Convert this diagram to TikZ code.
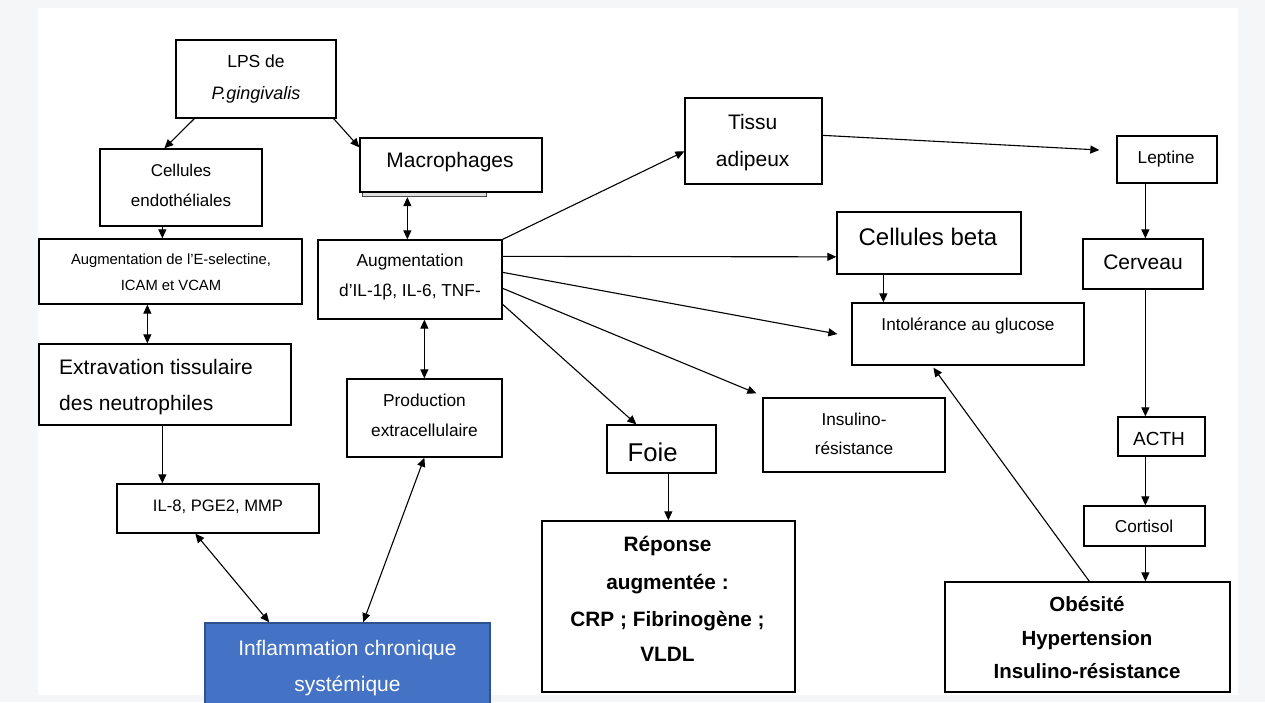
\documentclass[tikz,border=0pt]{standalone}
\usepackage{fontspec}
\setmainfont{Liberation Sans}
\usetikzlibrary{arrows.meta}
\newcommand{\fsz}[1]{\fontsize{#1}{#1}\selectfont}
\definecolor{pagebg}{HTML}{F5F6F8}
\definecolor{inflfill}{HTML}{4472C4}
\definecolor{infldraw}{HTML}{2F528F}
\tikzset{
  box/.style={draw=black, line width=1.3pt, inner sep=0pt, fill=white},
  txt/.style={anchor=base, inner sep=0pt, text=black},
  arr/.style={line width=1.1pt, -{Triangle[length=9pt,width=8pt]}},
  darr/.style={line width=1.1pt, {Triangle[length=9pt,width=8pt]}-{Triangle[length=9pt,width=8pt]}},
}
\begin{document}
\begin{tikzpicture}[x=1pt,y=-1pt]
\clip (0,0) rectangle (1265,702);
\useasboundingbox (0,0) rectangle (1265,702);
\fill[pagebg] (0,0) rectangle (1265,702);
\fill[white] (38,8) rectangle (1238,695);

% boxes
\node[box, minimum width=160pt, minimum height=78pt] (lps) at (256,79) {};
\node[box, minimum width=162pt, minimum height=77pt] (endo) at (181,187.5) {};
\draw[line width=0.8pt, draw=black!70, fill=black!12] (362,192) rectangle (486,196.5);
\node[box, minimum width=182pt, minimum height=54pt] (macro) at (451,165) {};
\node[box, minimum width=263pt, minimum height=65pt] (esel) at (170.5,271.5) {};
\node[box, minimum width=184pt, minimum height=79pt] (il) at (410,279.5) {};
\node[box, minimum width=252pt, minimum height=81pt] (extra) at (165,384.5) {};
\node[box, minimum width=155pt, minimum height=78pt] (prod) at (424.5,418) {};
\node[box, minimum width=202pt, minimum height=49pt] (il8) at (218,508.5) {};
\node[draw=infldraw, fill=inflfill, line width=1.6pt, inner sep=0pt, minimum width=285pt, minimum height=90pt] (infl) at (347.5,668) {};
\node[box, minimum width=137pt, minimum height=86pt] (tissu) at (753.5,141) {};
\node[box, minimum width=100pt, minimum height=47pt] (lept) at (1167,159.5) {};
\node[box, minimum width=184pt, minimum height=62pt] (beta) at (929,243) {};
\node[box, minimum width=120pt, minimum height=50pt] (cerv) at (1143,264) {};
\node[box, minimum width=232pt, minimum height=62pt] (intol) at (968,334) {};
\node[box, minimum width=182pt, minimum height=74pt] (insul) at (854,435) {};
\node[box, minimum width=109pt, minimum height=48pt] (foie) at (661.5,449) {};
\node[box, minimum width=253pt, minimum height=171pt] (rep) at (668.5,606.5) {};
\node[box, minimum width=87pt, minimum height=39pt] (acth) at (1161.5,436.5) {};
\node[box, minimum width=121pt, minimum height=40pt] (cort) at (1144.5,526) {};
\node[box, minimum width=285pt, minimum height=110pt] (obes) at (1087.5,637) {};

% texts
\node[txt, font=\fsz{17.5}] (tlps1) at (256,67.7) {LPS de};
\node[txt, font=\fsz{18}] (tlps2) at (256,99) {\textit{P.gingivalis}};
\node[txt, font=\fsz{17}] (tendo1) at (181,176) {Cellules};
\node[txt, font=\fsz{17}] (tendo2) at (181,206) {endothéliales};
\node[txt, font=\fsz{21}] (tmacro) at (450,167.7) {Macrophages};
\node[txt, font=\fsz{14.8}] (tesel1) at (171,264.3) {Augmentation de l’E-selectine,};
\node[txt, font=\fsz{14.8}] (tesel2) at (171,290) {ICAM et VCAM};
\node[txt, font=\fsz{17.3}] (til1) at (410,266.7) {Augmentation};
\node[txt, font=\fsz{17.3}] (til2) at (410,296.7) {d’IL-1β, IL-6, TNF-};
\node[txt, anchor=base west, font=\fsz{21}] (textra1) at (59,374) {Extravation tissulaire};
\node[txt, anchor=base west, font=\fsz{21}] (textra2) at (59,410) {des neutrophiles};
\node[txt, font=\fsz{17.3}] (tprod1) at (424.5,406) {Production};
\node[txt, font=\fsz{17.3}] (tprod2) at (424.5,436) {extracellulaire};
\node[txt, font=\fsz{16.6}] (til8) at (218,511.7) {IL-8, PGE2, MMP};
\node[txt, font=\fsz{21}, text=white] (tinfl1) at (347.5,655.7) {Inflammation chronique};
\node[txt, font=\fsz{21}, text=white] (tinfl2) at (347.5,691.7) {systémique};
\node[txt, font=\fsz{21}] (ttissu1) at (752.7,129.3) {Tissu};
\node[txt, font=\fsz{21}] (ttissu2) at (752.7,166) {adipeux};
\node[txt, font=\fsz{17.3}] (tlept) at (1166,163.3) {Leptine};
\node[txt, font=\fsz{24}] (tbeta) at (928,245) {Cellules beta};
\node[txt, font=\fsz{21}] (tcerv) at (1143,269.3) {Cerveau};
\node[txt, font=\fsz{17.2}] (tintol) at (968,330) {Intolérance au glucose};
\node[txt, font=\fsz{17.2}] (tinsul1) at (854,425) {Insulino-};
\node[txt, font=\fsz{17.2}] (tinsul2) at (854,454) {résistance};
\node[txt, font=\fsz{25.7}] (tfoie) at (652.7,461.7) {Foie};
\node[txt, font=\bfseries\fsz{20.8}] (trep1) at (667.5,551.7) {Réponse};
\node[txt, font=\bfseries\fsz{20.8}] (trep2) at (667.5,589) {augmentée :};
\node[txt, font=\bfseries\fsz{20.8}] (trep3) at (667.5,626) {CRP ; Fibrinogène ;};
\node[txt, font=\bfseries\fsz{20.8}] (trep4) at (667.5,661) {VLDL};
\node[txt, font=\fsz{19}] (tacth) at (1159,445) {ACTH};
\node[txt, font=\fsz{17.2}] (tcort) at (1144,532.7) {Cortisol};
\node[txt, font=\bfseries\fsz{20.5}] (tobes1) at (1087,611.7) {Obésité};
\node[txt, font=\bfseries\fsz{20.5}] (tobes2) at (1087,645) {Hypertension};
\node[txt, font=\bfseries\fsz{20.5}] (tobes3) at (1087,678) {Insulino-résistance};

% connectors
\draw[arr] ([xshift=19pt]lps.south west) -- ([xshift=65pt]endo.north west);
\draw[arr] ([xshift=-3pt]lps.south east) -- ([yshift=-10pt]macro.north west);
\draw[arr] ([xshift=63pt]endo.south west) -- ([xshift=124pt]esel.north west);
\draw[darr] ([xshift=109pt]esel.south west) -- ([xshift=109pt]extra.north west);
\draw[arr] ([xshift=124pt]extra.south west) -- ([xshift=46pt]il8.north west);
\draw[darr] ([xshift=79pt]il8.south west) -- ([xshift=65pt]infl.north west);
\draw[darr] ([xshift=78pt]prod.south west) -- ([xshift=159pt]infl.north west);
\draw[darr] ([xshift=48pt,yshift=-4.5pt]macro.south west) -- ([xshift=90pt]il.north west);
\draw[darr] ([xshift=107pt]il.south west) -- ([xshift=78pt]prod.north west);
\draw[arr] (il.north east) -- ([yshift=-54pt]tissu.north west);
\draw[arr] ([yshift=-17pt]il.north east) -- ([yshift=-45.5pt]beta.north west);
\draw[arr] ([yshift=-33pt]il.north east) -- ([xshift=-14pt]intol.west);
\draw[arr] ([yshift=-49pt]il.north east) -- ([xshift=-6pt,yshift=4pt]insul.north west);
\draw[arr] ([yshift=-65pt]il.north east) -- ([xshift=30pt]foie.north west);
\draw[arr] ([yshift=-38pt]tissu.north east) -- ([xshift=-17pt,yshift=9.5pt]lept.west);
\draw[arr] ([xshift=47pt]beta.south west) -- ([xshift=32pt]intol.north west);
\draw[arr] ([xshift=29pt]lept.south west) -- ([xshift=63pt]cerv.north west);
\draw[arr] ([xshift=63pt]cerv.south west) -- ([xshift=28pt]acth.north west);
\draw[arr] ([xshift=28pt]acth.south west) -- ([xshift=62pt]cort.north west);
\draw[arr] ([xshift=62pt]cort.south west) -- ([xshift=201pt]obes.north west);
\draw[arr] ([xshift=145pt]obes.north west) -- ([xshift=82pt,yshift=-2pt]intol.south west);
\draw[arr] ([xshift=62pt]foie.south west) -- ([xshift=127pt]rep.north west);
\end{tikzpicture}
\end{document}
